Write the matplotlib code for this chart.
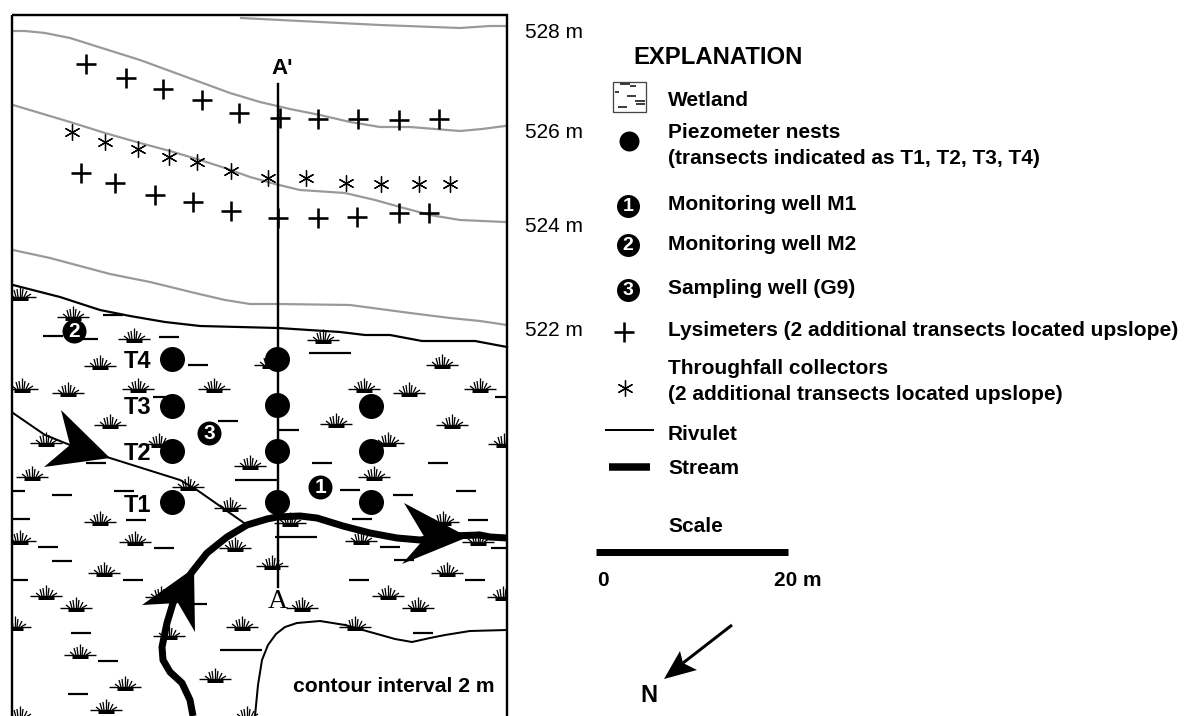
import matplotlib
matplotlib.use("Agg")
import numpy as np
import matplotlib.pyplot as plt
from matplotlib.collections import LineCollection
from matplotlib.patches import Rectangle, Polygon

plt.rcParams['font.family'] = ['Liberation Sans', 'DejaVu Sans']

PX = 0.72  # one pixel in points at dpi 100
TEXT_DY = 2  # va=center sits a little high for these fonts

# contours, gray
contour_528 = [(241, 18), (300, 21), (380, 25), (460, 28), (490, 26), (505, 26)]
contour_526 = [(13, 31), (25, 31), (45, 33), (70, 38), (105, 49), (140, 60), (170, 71), (200, 82), (230, 93), (260, 102), (290, 109), (320, 115), (350, 122), (380, 127), (410, 127), (435, 129), (460, 131), (482, 129), (505, 126)]
contour_524 = [(13, 105), (70, 122), (105, 133), (140, 143), (170, 151), (200, 160), (225, 168), (250, 177), (275, 184), (300, 190), (345, 193), (375, 200), (400, 207), (430, 215), (460, 220), (505, 222)]
contour_522 = [(13, 250), (50, 258), (80, 266), (110, 274), (150, 282), (195, 293), (225, 300), (250, 304), (278, 304), (350, 305), (380, 309), (410, 313), (450, 318), (480, 321), (507, 325)]
contour_labels = ["528 m", "526 m", "524 m", "522 m"]
contour_label_y = [31, 131, 225, 329]

# black lines
wetland_edge = [(13, 285), (60, 297), (100, 310), (130, 316), (165, 322), (200, 326), (278, 328), (340, 332), (365, 335), (390, 335), (422, 341), (475, 341), (507, 347)]
lower_edge = [(255, 716), (258, 685), (262, 660), (268, 645), (276, 634), (285, 627), (297, 623), (320, 621), (345, 625), (370, 632), (395, 639), (412, 642), (430, 638), (445, 635), (470, 631), (507, 630)]
rivulet = [(13, 413), (45, 435), (70, 445), (110, 458), (180, 480), (197, 490), (247, 525)]
stream = [(193, 716), (190, 700), (182, 683), (170, 672), (163, 660), (162, 647), (167, 623), (173, 603), (182, 587), (192, 572), (207, 553), (227, 537), (247, 525), (267, 519), (277, 517), (300, 516), (317, 518), (343, 526), (370, 533), (397, 538), (420, 540), (450, 536), (480, 535), (490, 537), (507, 538)]

# flow arrows: barb, notch, barb, tip
arrow_rivulet = [(61, 410), (70, 445), (44, 467), (110, 458)]
arrow_stream_right = [(404, 503), (425, 538), (402, 564), (468, 537)]
arrow_stream_up = [(142, 605), (178, 603), (195, 632), (194, 568)]
arrow_north = [(680, 651), (683, 663), (697, 670), (664, 679)]

# instruments
lys_x = [86, 126, 163, 202, 239, 280, 318, 358, 399, 439, 81, 115, 155, 193, 231, 278, 318, 357, 399, 429]
lys_y = [64, 78, 89, 100, 113, 118, 119, 119, 120, 119, 173, 183, 195, 202, 211, 218, 218, 217, 213, 213]
tf_x = [72, 105, 138, 169, 197, 231, 268, 306, 346, 381, 419, 450]
tf_y = [132, 142, 149, 157, 162, 171, 178, 178, 183, 184, 184, 184]
piez_x = [172, 172, 172, 172, 277, 277, 277, 277, 371, 371, 371]
piez_y = [359, 406, 451, 502, 359, 405, 451, 502, 406, 451, 502]
wells_x = [320, 74, 209]
wells_y = [487, 331, 433]
well_names = ["1", "2", "3"]
transects = ["T4", "T3", "T2", "T1"]
transect_y = [359, 406, 451, 503]

# wetland symbols
tuft_x = [20, 73, 134, 100, 22, 68, 138, 214, 110, 46, 159, 250, 32, 188, 270,
          323, 442, 364, 409, 480, 336, 452, 388, 504, 374,
          230, 100, 135, 20, 235, 104, 272, 46, 76, 161, 15, 169, 242, 80, 125, 215, 106, 20, 247,
          290, 443, 361, 478, 447, 302, 388, 418, 503, 355]
tuft_y = [297, 317, 339, 366, 389, 393, 389, 389, 425, 443, 444, 466, 477, 487, 365,
          340, 365, 389, 393, 389, 424, 425, 443, 444, 477,
          508, 522, 542, 541, 548, 573, 566, 596, 608, 597, 627, 636, 627, 655, 687, 679, 710, 717, 717,
          523, 522, 541, 542, 573, 608, 596, 608, 597, 627]
dash_x = [113, 53, 88, 169, 198, 163, 228, 96, 62, 124, 15, 289, 322, 438, 350, 403, 466, 505,
          20, 136, 48, 164, 62, 18, 133, 197, 81, 108, 78, 362, 478, 390, 404, 501, 359, 475, 423]
dash_y = [315, 336, 339, 337, 365, 397, 421, 463, 495, 491, 491, 430, 463, 463, 490, 495, 491, 397,
          519, 520, 547, 548, 561, 580, 580, 604, 633, 661, 694, 519, 520, 547, 560, 548, 580, 580, 633]
long_dash_x = [256, 330, 241, 296]
long_dash_y = [480, 353, 650, 537]

# explanation
legend_labels = ["Wetland", "Piezometer nests", "(transects indicated as T1, T2, T3, T4)",
                 "Monitoring well M1", "Monitoring well M2", "Sampling well (G9)",
                 "Lysimeters (2 additional transects located upslope)", "Throughfall collectors",
                 "(2 additional transects located upslope)", "Rivulet", "Stream", "Scale"]
legend_y = [98, 131, 156, 202, 243, 287, 329, 367, 393, 432, 467, 525]
legend_well_y = [206, 245, 290]
box_dash_x = [625, 633, 617, 631, 640, 640, 622]
box_dash_y = [84, 86, 92, 96, 101, 104, 107]
box_dash_w = [10, 6, 4, 9, 10, 9, 9]

# fan of spikes above a tuft, offsets from the line centre
spike_base = [-6, -4, -2, 0, 2, 4, 6]
spike_top = [-10, -6, -3, 0, 3, 7, 11]
spike_h = [-3, -7, -8, -11, -8, -6, -3]


def xy(points):
    arr = np.array(points, dtype=float)
    return arr[:, 0], arr[:, 1]


def tuft_segments(x, y):
    thin = []
    spikes = []
    thick = []
    for cx, cy in zip(x, y):
        thin.append([(cx - 16, cy), (cx + 16, cy)])
        for b, t, h in zip(spike_base, spike_top, spike_h):
            spikes.append([(cx + b, cy), (cx + t, cy + h)])
        thick.append([(cx - 8, cy + 2), (cx + 8, cy + 2)])
    return thin, spikes, thick


def well(ax, x, y, name, size, fs):
    ax.plot(x, y, 'o', color='black', ms=size * PX, mew=0, zorder=6)
    ax.text(x, y + 0.5, name, color='white', fontsize=fs, fontweight='bold', ha='center', va='center', zorder=7)


fig = plt.figure(figsize=(11.88, 7.16), dpi=100)
ax = fig.add_axes([0, 0, 1, 1])
ax.set_xlim(0, 1188)
ax.set_ylim(716, 0)
ax.axis('off')

clip = Rectangle((12, 15), 495, 720, transform=ax.transData)

for c in [contour_528, contour_526, contour_524, contour_522]:
    ax.plot(*xy(c), color='#999999', lw=2.2 * PX, zorder=1)

thin, spikes, thick = tuft_segments(tuft_x, tuft_y)
lc1 = LineCollection(thin, colors='black', linewidths=1.4 * PX, zorder=2)
lc2 = LineCollection(thick, colors='black', linewidths=3 * PX, zorder=2)
lc4 = LineCollection(spikes, colors='black', linewidths=1.3 * PX, zorder=2)
for lc in [lc1, lc2, lc4]:
    ax.add_collection(lc)
    lc.set_clip_path(clip)

dashes = [[(x - 10, y), (x + 10, y)] for x, y in zip(dash_x, dash_y)]
dashes += [[(x - 21, y), (x + 21, y)] for x, y in zip(long_dash_x, long_dash_y)]
lc3 = LineCollection(dashes, colors='black', linewidths=2.2 * PX, zorder=2)
ax.add_collection(lc3)
lc3.set_clip_path(clip)

ax.plot(*xy(wetland_edge), color='black', lw=2.2 * PX, zorder=3)
ax.plot(*xy(lower_edge), color='black', lw=2 * PX, zorder=3)
ax.plot(*xy(rivulet), color='black', lw=2 * PX, zorder=3)
ax.plot([278, 278], [84, 587], color='black', lw=2.4 * PX, zorder=3)
ax.plot(*xy(stream), color='black', lw=7 * PX, zorder=4, solid_capstyle='butt', solid_joinstyle='round')
for a in [arrow_rivulet, arrow_stream_right, arrow_stream_up]:
    ax.add_patch(Polygon(a, closed=True, fc='black', ec='none', zorder=5))

ax.plot(lys_x, lys_y, '+', color='black', ms=20 * PX, mew=2.6 * PX, zorder=4)
ax.plot(tf_x, tf_y, marker=(6, 2, 0), ls='none', color='black', ms=16 * PX, mew=1.3 * PX, zorder=4)
ax.plot(piez_x, piez_y, 'o', color='black', ms=25 * PX, mew=0, zorder=6)
for x, y, name in zip(wells_x, wells_y, well_names):
    well(ax, x, y, name, 24, 15)
for name, y in zip(transects, transect_y):
    ax.text(138, y + TEXT_DY, name, fontsize=17, fontweight='bold', ha='center', va='center', zorder=7)

ax.text(282, 68, "A'", fontsize=16, fontweight='bold', ha='center', va='center')
ax.text(278, 602, "A", fontsize=20, family='Liberation Serif', ha='center', va='center', zorder=7)
ax.text(394, 684 + TEXT_DY, "contour interval 2 m", fontsize=15.2, fontweight='bold', ha='center', va='center', zorder=7)

ax.add_patch(Rectangle((12, 15), 495, 720, fc='none', ec='black', lw=2.4 * PX, zorder=8))

for label, y in zip(contour_labels, contour_label_y):
    ax.text(525, y + TEXT_DY, label, fontsize=15, ha='left', va='center')

# explanation
ax.text(633, 56 + TEXT_DY, "EXPLANATION", fontsize=17.2, fontweight='bold', ha='left', va='center')
for label, y in zip(legend_labels, legend_y):
    ax.text(668, y + TEXT_DY, label, fontsize=15, fontweight='bold', ha='left', va='center')

ax.add_patch(Rectangle((613, 82), 33, 30, fc='none', ec='#444444', lw=1.3 * PX))
box_dashes = [[(x - w / 2, y), (x + w / 2, y)] for x, y, w in zip(box_dash_x, box_dash_y, box_dash_w)]
ax.add_collection(LineCollection(box_dashes, colors='black', linewidths=1.5 * PX))

ax.plot(629, 141, 'o', color='black', ms=20 * PX, mew=0)
for y, name in zip(legend_well_y, well_names):
    well(ax, 628, y, name, 23, 14)
ax.plot(624, 332, '+', color='black', ms=20 * PX, mew=2.6 * PX)
ax.plot(625, 388, marker=(6, 2, 0), color='black', ms=16 * PX, mew=1.3 * PX)
ax.plot([606, 653], [430, 430], color='black', lw=2 * PX)
ax.plot([609, 650], [467, 467], color='black', lw=7.5 * PX, solid_capstyle='butt')

# scale bar and north arrow
ax.plot([596, 788], [552, 552], color='black', lw=7 * PX, solid_capstyle='butt')
ax.text(603, 579 + TEXT_DY, "0", fontsize=15, fontweight='bold', ha='center', va='center')
ax.text(774, 579 + TEXT_DY, "20 m", fontsize=15, fontweight='bold', ha='left', va='center')
ax.plot([732, 683], [625, 663], color='black', lw=3 * PX, solid_capstyle='butt')
ax.add_patch(Polygon(arrow_north, closed=True, fc='black', ec='none'))
ax.text(649, 695, "N", fontsize=17, fontweight='bold', ha='center', va='center')

fig.savefig("out.png", dpi=100)
